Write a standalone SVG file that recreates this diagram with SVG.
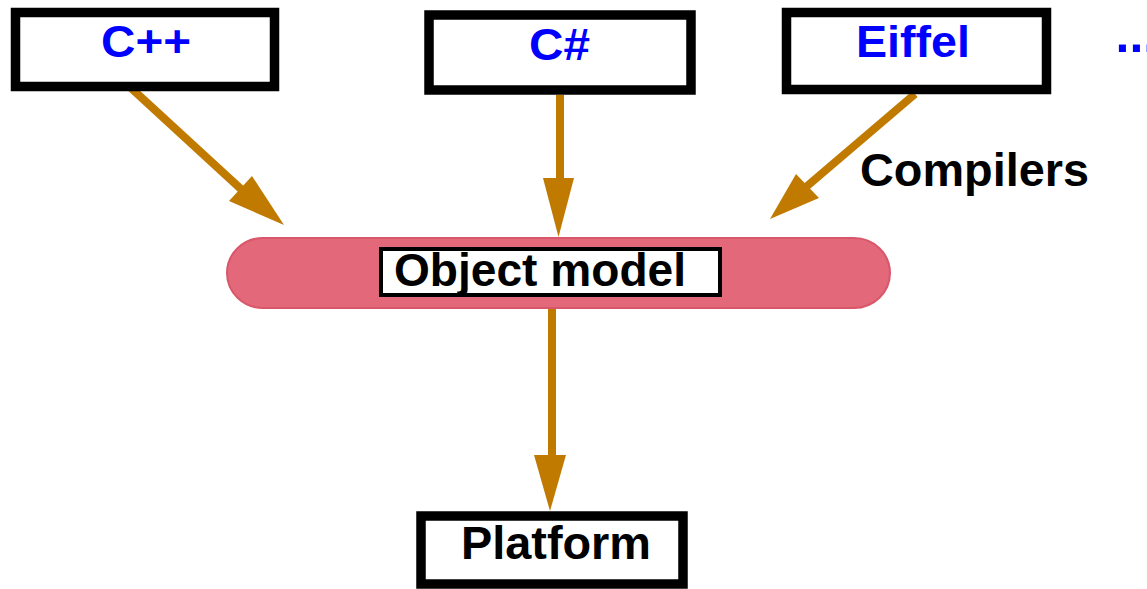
<svg xmlns="http://www.w3.org/2000/svg" width="1147" height="589" viewBox="0 0 1147 589">
<style>
.box{fill:#fff;stroke:#000;stroke-width:9.5}
.lang{font-family:"Liberation Sans",Arial,sans-serif;font-weight:bold;font-size:44px;fill:#0000ff}
.lbl{font-family:"Liberation Sans",Arial,sans-serif;font-weight:bold;font-size:46px;fill:#000}
.shaft{stroke:#c17a00;stroke-width:8;fill:none}
.head{fill:#c17a00}
</style>
<rect width="1147" height="589" fill="#fff"/>
<g id="connectors">
<line class="shaft" x1="131" y1="88" x2="242" y2="190"/>
<polygon class="head" points="252,176 229,201 284,225"/>
<line class="shaft" x1="560" y1="95" x2="560" y2="180"/>
<polygon class="head" points="543,178 574,178 558.5,237"/>
<line class="shaft" x1="915" y1="94" x2="806" y2="187"/>
<polygon class="head" points="796,174 819,198 770,219"/>
<line class="shaft" x1="552" y1="309" x2="552" y2="457"/>
<polygon class="head" points="534,455 566,455 550,511"/>
</g>
<g id="cpp">
<rect class="box" x="15.5" y="12.5" width="259" height="74"/>
<text class="lang" x="101" y="57" textLength="90" lengthAdjust="spacingAndGlyphs">C++</text>
</g>
<g id="csharp">
<rect class="box" x="429" y="15" width="262" height="75"/>
<text class="lang" x="529" y="60" textLength="61" lengthAdjust="spacingAndGlyphs">C#</text>
</g>
<g id="eiffel">
<rect class="box" x="786.5" y="12.5" width="260" height="77"/>
<text class="lang" x="856" y="57" textLength="114" lengthAdjust="spacingAndGlyphs">Eiffel</text>
</g>
<g id="more">
<text class="lang" x="1115.5" y="52" style="font-size:50px">...</text>
</g>
<g id="compilers">
<text class="lbl" x="860" y="186" textLength="229" lengthAdjust="spacingAndGlyphs">Compilers</text>
</g>
<g id="object-model">
<rect x="227" y="238" width="663" height="70" rx="36" ry="36" fill="#e2687a" stroke="#d9576b" stroke-width="2"/>
<rect x="381" y="249" width="339" height="46" fill="#fff" stroke="#000" stroke-width="4"/>
<text class="lbl" x="394" y="286" textLength="292" lengthAdjust="spacingAndGlyphs">Object model</text>
</g>
<g id="platform">
<rect class="box" x="421" y="516" width="262" height="68"/>
<text class="lbl" x="461" y="559" textLength="190" lengthAdjust="spacingAndGlyphs">Platform</text>
</g>
</svg>
